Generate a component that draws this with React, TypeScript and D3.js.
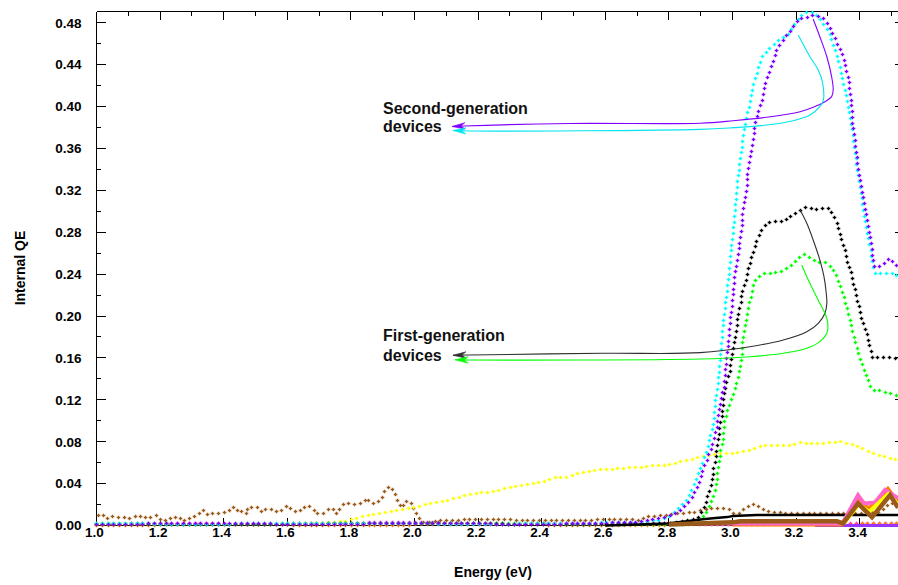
import React from "react";
import * as d3 from "d3";

type Pt = [number, number];

// ---------- axes ----------
const xTickValues = [1.0, 1.2, 1.4, 1.6, 1.8, 2.0, 2.2, 2.4, 2.6, 2.8, 3.0, 3.2, 3.4];
const xMinorTickValues = [1.1, 1.3, 1.5, 1.7, 1.9, 2.1, 2.3, 2.5, 2.7, 2.9, 3.1, 3.3, 3.5];
const yTickValues = [0, 0.04, 0.08, 0.12, 0.16, 0.2, 0.24, 0.28, 0.32, 0.36, 0.4, 0.44, 0.48];
const yMinorTickValues = [0.02, 0.06, 0.1, 0.14, 0.18, 0.22, 0.26, 0.3, 0.34, 0.38, 0.42, 0.46];
const xTitle = "Energy (eV)";
const yTitle = "Internal QE";

// ---------- dotted (marker) series ----------
const cyanSecondGen: Pt[] = [
  [1.0, 0.002], [1.3, 0.001], [1.6, 0.002], [1.9, 0.002], [2.2, 0.001], [2.5, 0.002],
  [2.709, 0.003], [2.772, 0.005], [2.803, 0.009], [2.835, 0.017], [2.863, 0.027], [2.888, 0.045],
  [2.907, 0.059], [2.923, 0.075], [2.939, 0.094], [2.951, 0.126], [2.955, 0.136], [2.967, 0.177],
  [2.98, 0.215], [2.989, 0.237], [3.002, 0.279], [3.011, 0.308], [3.021, 0.339], [3.033, 0.368],
  [3.049, 0.394], [3.068, 0.422], [3.093, 0.447], [3.112, 0.454], [3.15, 0.465], [3.172, 0.468],
  [3.191, 0.476], [3.207, 0.483], [3.222, 0.489], [3.238, 0.49], [3.26, 0.489], [3.276, 0.483],
  [3.291, 0.476], [3.307, 0.47], [3.316, 0.46], [3.329, 0.451], [3.338, 0.438], [3.348, 0.425],
  [3.36, 0.409], [3.367, 0.394], [3.379, 0.375], [3.392, 0.342], [3.408, 0.311], [3.42, 0.287],
  [3.436, 0.263], [3.442, 0.247], [3.449, 0.241], [3.512, 0.241], [3.521, 0.236],
];

const purpleSecondGen: Pt[] = [
  [1.0, 0.001], [1.35, 0.002], [1.7, 0.001], [2.05, 0.002], [2.4, 0.001], [2.7, 0.003],
  [2.803, 0.009], [2.826, 0.012], [2.845, 0.017], [2.861, 0.022], [2.876, 0.027], [2.889, 0.036],
  [2.898, 0.043], [2.907, 0.053], [2.917, 0.059], [2.923, 0.065], [2.936, 0.075], [2.945, 0.084],
  [2.952, 0.094], [2.955, 0.103], [2.961, 0.113], [2.967, 0.122], [2.974, 0.132], [3.008, 0.237],
  [3.018, 0.256], [3.024, 0.272], [3.03, 0.285], [3.033, 0.298], [3.039, 0.311], [3.046, 0.323],
  [3.049, 0.336], [3.055, 0.349], [3.065, 0.368], [3.071, 0.38], [3.08, 0.394], [3.093, 0.406],
  [3.102, 0.419], [3.115, 0.432], [3.128, 0.442], [3.14, 0.454], [3.156, 0.462], [3.172, 0.468],
  [3.191, 0.476], [3.213, 0.484], [3.235, 0.485], [3.254, 0.487], [3.269, 0.486], [3.285, 0.484],
  [3.301, 0.478], [3.313, 0.471], [3.323, 0.465], [3.332, 0.459], [3.345, 0.451], [3.354, 0.441],
  [3.364, 0.428], [3.37, 0.416], [3.376, 0.399], [3.379, 0.384], [3.386, 0.368], [3.392, 0.352],
  [3.398, 0.336], [3.408, 0.32], [3.417, 0.304], [3.427, 0.289], [3.436, 0.272], [3.442, 0.256],
  [3.446, 0.247], [3.464, 0.247], [3.48, 0.25], [3.496, 0.255], [3.505, 0.25], [3.521, 0.247],
];

const blackFirstGen: Pt[] = [
  [1.0, 0.001], [1.5, 0.001], [2.0, 0.002], [2.5, 0.001], [2.8, 0.002],
  [2.835, 0.003], [2.867, 0.005], [2.898, 0.008], [2.907, 0.014], [2.917, 0.021], [2.923, 0.029],
  [2.933, 0.036], [2.939, 0.046], [2.942, 0.055], [2.949, 0.065], [2.952, 0.075], [2.958, 0.084],
  [2.961, 0.094], [2.967, 0.103], [2.971, 0.113], [2.974, 0.122], [2.977, 0.132], [2.992, 0.146],
  [2.999, 0.16], [3.005, 0.174], [3.014, 0.186], [3.018, 0.199], [3.027, 0.212], [3.033, 0.225],
  [3.046, 0.237], [3.055, 0.25], [3.068, 0.263], [3.08, 0.274], [3.096, 0.284], [3.112, 0.289],
  [3.131, 0.29], [3.147, 0.29], [3.162, 0.29], [3.178, 0.294], [3.197, 0.298], [3.213, 0.301],
  [3.229, 0.304], [3.244, 0.303], [3.26, 0.302], [3.276, 0.302], [3.291, 0.303], [3.307, 0.302],
  [3.316, 0.296], [3.329, 0.289], [3.338, 0.279], [3.348, 0.269], [3.357, 0.26], [3.364, 0.25],
  [3.376, 0.241], [3.379, 0.231], [3.389, 0.222], [3.395, 0.212], [3.404, 0.203], [3.411, 0.193],
  [3.423, 0.183], [3.43, 0.174], [3.439, 0.165], [3.442, 0.16], [3.464, 0.16], [3.512, 0.16],
  [3.521, 0.156],
];

const greenFirstGen: Pt[] = [
  [1.0, 0.002], [1.4, 0.001], [1.8, 0.002], [2.2, 0.002], [2.6, 0.001],
  [2.845, 0.001], [2.876, 0.002], [2.895, 0.005], [2.907, 0.008], [2.917, 0.011], [2.923, 0.016],
  [2.933, 0.021], [2.939, 0.027], [2.945, 0.033], [2.952, 0.043], [2.955, 0.053], [2.961, 0.062],
  [2.964, 0.072], [2.971, 0.081], [2.974, 0.091], [2.977, 0.1], [2.986, 0.11], [2.996, 0.119],
  [3.005, 0.127], [3.014, 0.136], [3.024, 0.148], [3.03, 0.161], [3.033, 0.174], [3.039, 0.186],
  [3.046, 0.199], [3.052, 0.21], [3.062, 0.222], [3.068, 0.231], [3.08, 0.237], [3.102, 0.241],
  [3.118, 0.241], [3.134, 0.241], [3.15, 0.242], [3.165, 0.244], [3.181, 0.247], [3.197, 0.251],
  [3.213, 0.256], [3.229, 0.259], [3.244, 0.256], [3.26, 0.253], [3.276, 0.251], [3.291, 0.251],
  [3.307, 0.248], [3.316, 0.244], [3.329, 0.237], [3.338, 0.229], [3.348, 0.222], [3.357, 0.212],
  [3.364, 0.203], [3.373, 0.193], [3.379, 0.183], [3.389, 0.174], [3.395, 0.164], [3.408, 0.155],
  [3.417, 0.146], [3.427, 0.139], [3.436, 0.132], [3.442, 0.129], [3.464, 0.129], [3.48, 0.127],
  [3.496, 0.126], [3.512, 0.124], [3.521, 0.124],
];

const yellowDevice: Pt[] = [
  [1.0, 0.001], [1.3, 0.001], [1.6, 0.001], [1.704, 0.002], [1.788, 0.004], [1.819, 0.007],
  [1.86, 0.01], [1.901, 0.012], [1.945, 0.014], [1.995, 0.017], [2.049, 0.021], [2.102, 0.024],
  [2.153, 0.028], [2.206, 0.031], [2.247, 0.032], [2.278, 0.035], [2.332, 0.038], [2.373, 0.04],
  [2.417, 0.043], [2.436, 0.046], [2.48, 0.046], [2.511, 0.05], [2.543, 0.051], [2.584, 0.053],
  [2.625, 0.054], [2.669, 0.055], [2.709, 0.055], [2.741, 0.057], [2.794, 0.057], [2.826, 0.06],
  [2.867, 0.063], [2.898, 0.065], [2.939, 0.067], [2.971, 0.069], [3.014, 0.069], [3.055, 0.072],
  [3.096, 0.076], [3.128, 0.076], [3.172, 0.076], [3.213, 0.079], [3.254, 0.078], [3.298, 0.079],
  [3.338, 0.08], [3.37, 0.078], [3.401, 0.075], [3.433, 0.07], [3.464, 0.067], [3.496, 0.064],
  [3.521, 0.062],
];

const brownDevice: Pt[] = [
  [1.005, 0.01], [1.02, 0.01], [1.033, 0.006], [1.049, 0.009], [1.058, 0.008], [1.074, 0.007],
  [1.09, 0.008], [1.102, 0.007], [1.115, 0.007], [1.131, 0.01], [1.146, 0.007], [1.159, 0.008],
  [1.171, 0.008], [1.187, 0.01], [1.2, 0.006], [1.215, 0.004], [1.225, 0.007], [1.241, 0.006],
  [1.253, 0.009], [1.263, 0.007], [1.275, 0.004], [1.294, 0.007], [1.307, 0.008], [1.316, 0.011],
  [1.332, 0.011], [1.338, 0.014], [1.348, 0.01], [1.36, 0.012], [1.379, 0.011], [1.395, 0.012],
  [1.41, 0.012], [1.426, 0.017], [1.439, 0.017], [1.445, 0.012], [1.461, 0.014], [1.473, 0.011],
  [1.476, 0.017], [1.492, 0.017], [1.508, 0.017], [1.524, 0.012], [1.536, 0.016], [1.555, 0.015],
  [1.571, 0.013], [1.587, 0.015], [1.602, 0.019], [1.618, 0.015], [1.634, 0.012], [1.649, 0.017],
  [1.665, 0.019], [1.681, 0.016], [1.693, 0.011], [1.712, 0.011], [1.728, 0.015], [1.744, 0.016],
  [1.756, 0.011], [1.766, 0.016], [1.775, 0.02], [1.791, 0.021], [1.807, 0.02], [1.822, 0.021],
  [1.838, 0.022], [1.851, 0.026], [1.86, 0.022], [1.87, 0.021], [1.882, 0.021], [1.898, 0.027],
  [1.904, 0.031], [1.914, 0.036], [1.929, 0.036], [1.939, 0.031], [1.948, 0.022], [1.961, 0.017],
  [1.97, 0.022], [1.98, 0.024], [1.992, 0.021], [1.999, 0.016], [2.008, 0.011], [2.017, 0.007],
  [2.027, 0.003], [2.058, 0.003], [2.096, 0.005], [2.134, 0.005], [2.2, 0.006], [2.232, 0.006],
  [2.332, 0.005], [2.363, 0.005], [2.543, 0.005], [2.646, 0.006], [2.709, 0.005], [2.731, 0.008],
  [2.772, 0.009], [2.813, 0.011], [2.835, 0.011], [2.857, 0.012], [2.888, 0.013], [2.907, 0.015],
  [2.93, 0.016], [2.986, 0.016], [3.008, 0.011], [3.024, 0.012], [3.039, 0.016], [3.055, 0.019],
  [3.071, 0.021], [3.087, 0.017], [3.109, 0.014], [3.128, 0.012], [3.15, 0.012], [3.37, 0.011],
  [3.433, 0.012], [3.464, 0.013], [3.496, 0.021], [3.521, 0.021],
];

const magentaDevice: Pt[] = [
  [1.0, 0.001], [1.25, 0.002], [1.5, 0.001], [1.75, 0.002], [2.0, 0.003], [2.25, 0.001],
  [2.5, 0.002], [2.75, 0.002], [3.0, 0.001], [3.25, 0.002], [3.521, 0.002],
];

const orangeDevice: Pt[] = [
  [1.0, 0.0], [1.4, 0.001], [1.8, 0.0], [2.2, 0.001], [2.6, 0.0], [3.0, 0.001],
  [3.3, 0.001], [3.521, 0.002],
];

// ---------- solid (thick) series ----------
const blackSolid: Pt[] = [
  [2.6, 0.0], [2.709, 0.001], [2.794, 0.002], [2.857, 0.004], [2.907, 0.006], [2.939, 0.007],
  [2.983, 0.008], [3.002, 0.009], [3.077, 0.01], [3.521, 0.01],
];
const orangeSolid: Pt[] = [
  [3.0, 0.001], [3.345, 0.001], [3.392, 0.025], [3.43, 0.016], [3.489, 0.035], [3.521, 0.022],
];
const pinkSolid: Pt[] = [
  [2.9, 0.002], [3.346, 0.002], [3.395, 0.029], [3.414, 0.021], [3.449, 0.022], [3.48, 0.034],
  [3.521, 0.026],
];
const yellowSolid: Pt[] = [
  [3.35, 0.002], [3.397, 0.02], [3.43, 0.013], [3.49, 0.03], [3.521, 0.02],
];
const brownSolid: Pt[] = [
  [2.8, 0.001], [3.002, 0.003], [3.024, 0.004], [3.329, 0.004], [3.348, 0.002], [3.395, 0.021],
  [3.439, 0.008], [3.496, 0.029], [3.521, 0.017],
];
const purpleSolid: Pt[] = [
  [3.26, 0.0], [3.521, 0.0],
];

// ---------- annotations ----------
const purpleArrow: Pt[] = [
  [3.254, 0.4835], [3.275, 0.4666], [3.297, 0.4475], [3.312, 0.4285], [3.317, 0.4158],
  [3.312, 0.4094], [3.291, 0.4046], [3.254, 0.3992], [3.213, 0.395], [3.108, 0.3897],
  [3.003, 0.3864], [2.899, 0.384], [2.489, 0.3838], [2.153, 0.3814], [2.118, 0.3809],
];
const cyanArrow: Pt[] = [
  [3.207, 0.4683], [3.244, 0.4475], [3.27, 0.4348], [3.284, 0.4221], [3.286, 0.4062],
  [3.275, 0.3998], [3.244, 0.3919], [3.191, 0.3864], [3.108, 0.3823], [3.003, 0.3798],
  [2.899, 0.3782], [2.174, 0.3766], [2.121, 0.3771],
];
const blackArrow: Pt[] = [
  [3.213, 0.3012], [3.234, 0.2885], [3.254, 0.2726], [3.275, 0.2535], [3.288, 0.2375],
  [3.294, 0.2248], [3.297, 0.2121], [3.291, 0.2026], [3.27, 0.193], [3.234, 0.185],
  [3.16, 0.1771], [3.055, 0.1707], [2.899, 0.165], [2.594, 0.1644], [2.174, 0.1628], [2.121, 0.1625],
];
const greenArrow: Pt[] = [
  [3.218, 0.2487], [3.234, 0.2375], [3.254, 0.2248], [3.275, 0.2121], [3.291, 0.2026],
  [3.3, 0.193], [3.297, 0.1835], [3.275, 0.1755], [3.234, 0.1692], [3.16, 0.1644],
  [3.055, 0.1611], [2.899, 0.1589], [2.174, 0.158], [2.128, 0.1582],
];
const annotationLabels = [
  { lines: ["Second-generation", "devices"], e: 1.901, q: [0.3928, 0.3757] },
  { lines: ["First-generation", "devices"], e: 1.901, q: [0.1761, 0.1575] },
];

const FONT = '"Liberation Sans", Arial, Helvetica, sans-serif';

function markerPath(pixels: Pt[], step: number, arm: number): string {
  let d = "";
  const add = (px: number, py: number) => {
    const cx = Math.round(px - 0.5) + 0.5;
    const cy = Math.round(py - 0.5) + 0.5;
    d += `M${cx - arm},${cy}h${2 * arm}M${cx},${cy - arm}v${2 * arm}`;
  };
  if (!pixels.length) return d;
  add(pixels[0][0], pixels[0][1]);
  let next = step;
  let acc = 0;
  for (let i = 1; i < pixels.length; i++) {
    const [x0, y0] = pixels[i - 1];
    const [x1, y1] = pixels[i];
    const L = Math.hypot(x1 - x0, y1 - y0);
    while (L > 0 && next <= acc + L) {
      const t = (next - acc) / L;
      add(x0 + t * (x1 - x0), y0 + t * (y1 - y0));
      next += step;
    }
    acc += L;
  }
  return d;
}

export default function App() {
  const width = 898;
  const height = 585;
  const x = d3.scaleLinear().domain([1.0, 3.5208]).range([96.5, 898]);
  const y = d3.scaleLinear().domain([0, 0.4907]).range([525.5, 11.5]);
  const crisp = (v: number) => Math.round(v - 0.5) + 0.5;

  const toPx = (data: Pt[]): Pt[] => data.map((d) => [x(d[0]), y(d[1])] as Pt);

  const dotted = [
    { data: magentaDevice, color: "#ff00ff" },
    { data: orangeDevice, color: "#ff8000" },
    { data: brownDevice, color: "#9a5a1a" },
    { data: yellowDevice, color: "#ffff00" },
    { data: greenFirstGen, color: "#00ff00" },
    { data: blackFirstGen, color: "#000000" },
    { data: cyanSecondGen, color: "#00ffff" },
    { data: purpleSecondGen, color: "#8000ff" },
  ];

  const solid = [
    { data: purpleSolid, color: "#9933ff", w: 3 },
    { data: blackSolid, color: "#000000", w: 2.5 },
    { data: orangeSolid, color: "#ff8000", w: 4 },
    { data: pinkSolid, color: "#ff66cc", w: 4 },
    { data: yellowSolid, color: "#ffff00", w: 4 },
    { data: brownSolid, color: "#9a5a1a", w: 4.5 },
  ];

  const lineGen = d3
    .line<Pt>()
    .x((d) => x(d[0]))
    .y((d) => y(d[1]));

  const curveGen = d3
    .line<Pt>()
    .x((d) => x(d[0]))
    .y((d) => y(d[1]))
    .curve(d3.curveCatmullRom.alpha(0.5));

  const arrows = [
    { data: purpleArrow, color: "#8000ff" },
    { data: cyanArrow, color: "#00e5ee" },
    { data: blackArrow, color: "#303030" },
    { data: greenArrow, color: "#00ff00" },
  ];

  const arrowHead = (data: Pt[]) => {
    const n = data.length;
    const tx = x(data[n - 1][0]);
    const ty = y(data[n - 1][1]);
    const px = x(data[n - 2][0]);
    const py = y(data[n - 2][1]);
    const len = Math.hypot(tx - px, ty - py) || 1;
    const ux = (tx - px) / len;
    const uy = (ty - py) / len;
    const L = 13;
    const w = 3.2;
    const bx = tx - ux * L;
    const by = ty - uy * L;
    return `M${tx},${ty}L${bx - uy * w},${by + ux * w}L${bx + ux * 4},${by + uy * 4}L${bx + uy * w},${by - ux * w}Z`;
  };

  const plotLeft = x(1.0);
  const plotRight = 898;
  const plotTop = y(0.4907);
  const plotBottom = y(0);

  return (
    <svg
      width={width}
      height={height}
      style={{ position: "absolute", left: 0, top: 0, background: "#fff" }}
      fontFamily={FONT}
    >
      <rect x={0} y={0} width={width} height={height} fill="#ffffff" />

      {/* frame */}
      <g stroke="#000" strokeWidth={1} fill="none" shapeRendering="crispEdges">
        <line x1={crisp(plotLeft)} x2={plotRight} y1={crisp(plotTop)} y2={crisp(plotTop)} />
        <line x1={crisp(plotLeft)} x2={plotRight} y1={crisp(plotBottom)} y2={crisp(plotBottom)} />
        <line x1={crisp(plotLeft)} x2={crisp(plotLeft)} y1={crisp(plotTop)} y2={crisp(plotBottom)} />
        {yTickValues.map((v) => (
          <line key={"yl" + v} x1={crisp(plotLeft)} x2={crisp(plotLeft) + 9} y1={crisp(y(v))} y2={crisp(y(v))} />
        ))}
        {yMinorTickValues.map((v) => (
          <line key={"ym" + v} x1={crisp(plotLeft)} x2={crisp(plotLeft) + 4} y1={crisp(y(v))} y2={crisp(y(v))} />
        ))}
        {yTickValues.map((v) => (
          <line key={"yr" + v} x1={plotRight - 3} x2={plotRight} y1={crisp(y(v))} y2={crisp(y(v))} />
        ))}
        {xTickValues.map((v) => (
          <line key={"xt" + v} x1={crisp(x(v))} x2={crisp(x(v))} y1={crisp(plotTop)} y2={crisp(plotTop) + 8} />
        ))}
        {xMinorTickValues.map((v) => (
          <line key={"xtm" + v} x1={crisp(x(v))} x2={crisp(x(v))} y1={crisp(plotTop)} y2={crisp(plotTop) + 4} />
        ))}
        {xTickValues.map((v) => (
          <line key={"xb" + v} x1={crisp(x(v))} x2={crisp(x(v))} y1={crisp(plotBottom)} y2={crisp(plotBottom) - 8} />
        ))}
      </g>

      {/* tick labels */}
      <g fontSize={13.5} fontWeight="bold" fill="#000">
        {yTickValues.map((v) => (
          <text key={"ylab" + v} x={81.5} y={y(v)} dy="0.36em" textAnchor="end">
            {d3.format(".2f")(v)}
          </text>
        ))}
        {xTickValues.map((v) => (
          <text key={"xlab" + v} x={x(v) - 2} y={537} textAnchor="middle">
            {d3.format(".1f")(v)}
          </text>
        ))}
      </g>

      {/* axis titles */}
      <text x={493} y={577} textAnchor="middle" fontSize={14} fontWeight="bold" fill="#000">
        {xTitle}
      </text>
      <text
        transform={`translate(25,268) rotate(-90)`}
        textAnchor="middle"
        fontSize={14}
        fontWeight="bold"
        fill="#000"
      >
        {yTitle}
      </text>

      {/* dotted series as "+" markers along the line */}
      <g fill="none" strokeWidth={1.3}>
        {dotted.map((s, i) => (
          <path key={"dot" + i} d={markerPath(toPx(s.data), 5.8, 1.8)} stroke={s.color} />
        ))}
      </g>

      {/* thick solid series */}
      <g fill="none" strokeLinejoin="miter">
        {solid.map((s, i) => (
          <path key={"sol" + i} d={lineGen(s.data) || ""} stroke={s.color} strokeWidth={s.w} />
        ))}
      </g>

      {/* annotation arrows */}
      <g>
        {arrows.map((a, i) => (
          <g key={"arr" + i}>
            <path d={curveGen(a.data) || ""} fill="none" stroke={a.color} strokeWidth={1.1} />
            <path d={arrowHead(a.data)} fill={a.color} stroke={a.color} strokeWidth={0.6} />
          </g>
        ))}
      </g>

      {/* annotation labels */}
      <g fontSize={16} fontWeight="bold" fill="#111">
        {annotationLabels.map((l, i) =>
          l.lines.map((t, j) => (
            <text key={"lab" + i + j} x={x(l.e)} y={y(l.q[j])}>
              {t}
            </text>
          ))
        )}
      </g>
    </svg>
  );
}
